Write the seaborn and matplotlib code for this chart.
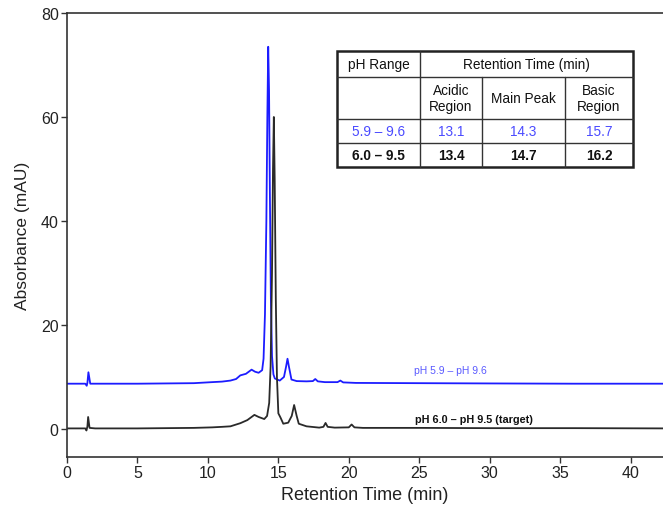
import matplotlib
matplotlib.use("Agg")
import matplotlib.pyplot as plt
import seaborn as sns
import pandas as pd

# ---- data ----
blue_t = [0, 1.30, 1.40, 1.45, 1.52, 1.65, 2.0, 5.0, 9.0, 10.3, 11.0, 11.6, 12.0, 12.3, 12.7,
          13.1, 13.35, 13.6, 13.85, 13.95, 14.05, 14.15, 14.22, 14.28, 14.34, 14.40, 14.47,
          14.55, 14.65, 14.75, 15.1, 15.4, 15.55, 15.65, 15.75, 15.93, 16.3, 17.0, 17.45,
          17.62, 17.8, 18.3, 19.2, 19.4, 19.6, 20.5, 25, 30, 36, 42.5]
blue_y = [8.7, 8.7, 8.3, 8.9, 10.9, 8.7, 8.7, 8.7, 8.8, 9.0, 9.1, 9.3, 9.6, 10.3, 10.6,
          11.4, 11.0, 10.8, 11.3, 13.5, 22, 40, 60, 73.5, 65, 45, 25,
          14, 10.5, 9.7, 9.3, 10.0, 12.0, 13.5, 12.0, 9.5, 9.2, 9.15, 9.2,
          9.6, 9.15, 9.0, 9.0, 9.3, 8.95, 8.85, 8.8, 8.75, 8.7, 8.7]

black_t = [0, 1.30, 1.38, 1.45, 1.50, 1.60, 2.0, 5.0, 9.0, 10.3, 11.0, 11.6, 12.3, 12.8,
           13.3, 13.6, 14.0, 14.2, 14.35, 14.45, 14.55, 14.62, 14.68, 14.74, 14.82, 14.9,
           15.0, 15.15, 15.35, 15.7, 15.95, 16.12, 16.3, 16.45, 17.0, 17.9, 18.2, 18.35,
           18.5, 19.0, 20.0, 20.2, 20.4, 21.0, 25, 30, 36, 42.5]
black_y = [0.1, 0.1, -0.3, 0.5, 2.3, 0.2, 0.1, 0.1, 0.2, 0.3, 0.4, 0.5, 1.1, 1.7,
           2.7, 2.3, 1.9, 2.5, 5, 12, 30, 50, 60, 48, 25, 10,
           3.0, 2.2, 1.0, 1.2, 2.5, 4.6, 2.5, 1.0, 0.5, 0.25, 0.4, 1.15,
           0.4, 0.25, 0.3, 0.85, 0.3, 0.2, 0.2, 0.15, 0.15, 0.1]

series_names = ["pH 5.9 \u2013 pH 9.6", "pH 6.0 \u2013 pH 9.5 (target)"]
series_colors = ["#1c1cff", "#2a2a2a"]

x_ticks = [0, 5, 10, 15, 20, 25, 30, 35, 40]
y_ticks = [0, 20, 40, 60, 80]

table_header = ["pH Range", "Retention Time (min)"]
table_subheader = ["Acidic\nRegion", "Main Peak", "Basic\nRegion"]
table_rows = [["5.9 \u2013 9.6", "13.1", "14.3", "15.7"],
              ["6.0 \u2013 9.5", "13.4", "14.7", "16.2"]]
table_row_colors = ["#4a4aff", "#111111"]
table_row_weights = ["normal", "bold"]

# ---- build frame ----
df = pd.concat([
    pd.DataFrame({"t": blue_t, "A": blue_y, "series": series_names[0]}),
    pd.DataFrame({"t": black_t, "A": black_y, "series": series_names[1]}),
], ignore_index=True)

sns.set_style("ticks")
plt.rcParams["font.family"] = ["Liberation Sans", "DejaVu Sans"]

W, H = 663, 506
fig = plt.figure(figsize=(W / 100, H / 100), dpi=100)
ax = fig.add_axes([67 / W, 1 - 458 / H, (W - 67) / W, (458 - 14) / H])

sns.lineplot(data=df, x="t", y="A", hue="series", palette=series_colors,
             hue_order=series_names, estimator=None, sort=False, legend=False,
             linewidth=1.3, ax=ax)

ax.set_xlim(0, 42.3)
ax.set_ylim(-5.4, 80)
ax.set_xticks(x_ticks)
ax.set_yticks(y_ticks)
ax.tick_params(axis="both", direction="out", length=4, width=1, color="#333333",
               labelsize=11.5, labelcolor="#222222", pad=2)
for s in ["left", "bottom", "top"]:
    ax.spines[s].set_color("#333333")
    ax.spines[s].set_linewidth(1.2)
    ax.spines[s].set_visible(True)
ax.spines["right"].set_visible(False)

ax.set_xlabel("Retention Time (min)", fontsize=13, color="#222222", labelpad=4)
ax.set_ylabel("Absorbance (mAU)", fontsize=12.5, color="#222222", labelpad=8)

# curve labels
ax.text(24.6, 10.3, series_names[0], color="#5a5aff", fontsize=7.5, va="bottom", ha="left")
ax.text(24.7, 1.9, series_names[1], color="#111111", fontsize=7.8, fontweight="bold",
        va="center", ha="left")

# ---- table (figure pixel layout) ----
def fx(px):
    return px / W

def fy(py):
    return 1 - py / H

cols = [337, 420, 482, 565, 633]
rows = [51.7, 78.3, 120, 144, 168.3]
from matplotlib.lines import Line2D
from matplotlib.patches import Rectangle

fig.patches.append(Rectangle((fx(cols[0]), fy(rows[-1])), fx(cols[-1]) - fx(cols[0]),
                             fy(rows[0]) - fy(rows[-1]), transform=fig.transFigure,
                             facecolor="white", edgecolor="#222222", linewidth=1.8, zorder=5))
def hline(y, x0, x1, lw=1.0):
    fig.lines.append(Line2D([fx(x0), fx(x1)], [fy(y), fy(y)], transform=fig.transFigure,
                            color="#333333", linewidth=lw, zorder=6))
def vline(x, y0, y1, lw=1.0):
    fig.lines.append(Line2D([fx(x), fx(x)], [fy(y0), fy(y1)], transform=fig.transFigure,
                            color="#333333", linewidth=lw, zorder=6))

for r in rows[1:-1]:
    hline(r, cols[0], cols[-1])
vline(cols[1], rows[0], rows[-1])
vline(cols[2], rows[1], rows[-1])
vline(cols[3], rows[1], rows[-1])

fs = 9.8
def ctext(x, y, s, **kw):
    fig.text(fx(x), fy(y), s, ha="center", va="center", fontsize=fs, zorder=7,
             linespacing=1.2, **kw)

ctext((cols[0] + cols[1]) / 2, (rows[0] + rows[1]) / 2, table_header[0], color="#111111")
ctext((cols[1] + cols[4]) / 2, (rows[0] + rows[1]) / 2, table_header[1], color="#111111")
for i, s in enumerate(table_subheader):
    ctext((cols[i + 1] + cols[i + 2]) / 2, (rows[1] + rows[2]) / 2, s, color="#111111")
for r, row in enumerate(table_rows):
    for c, s in enumerate(row):
        ctext((cols[c] + cols[c + 1]) / 2, (rows[r + 2] + rows[r + 3]) / 2, s,
              color=table_row_colors[r], fontweight=table_row_weights[r])

fig.savefig("out.png", dpi=100)
